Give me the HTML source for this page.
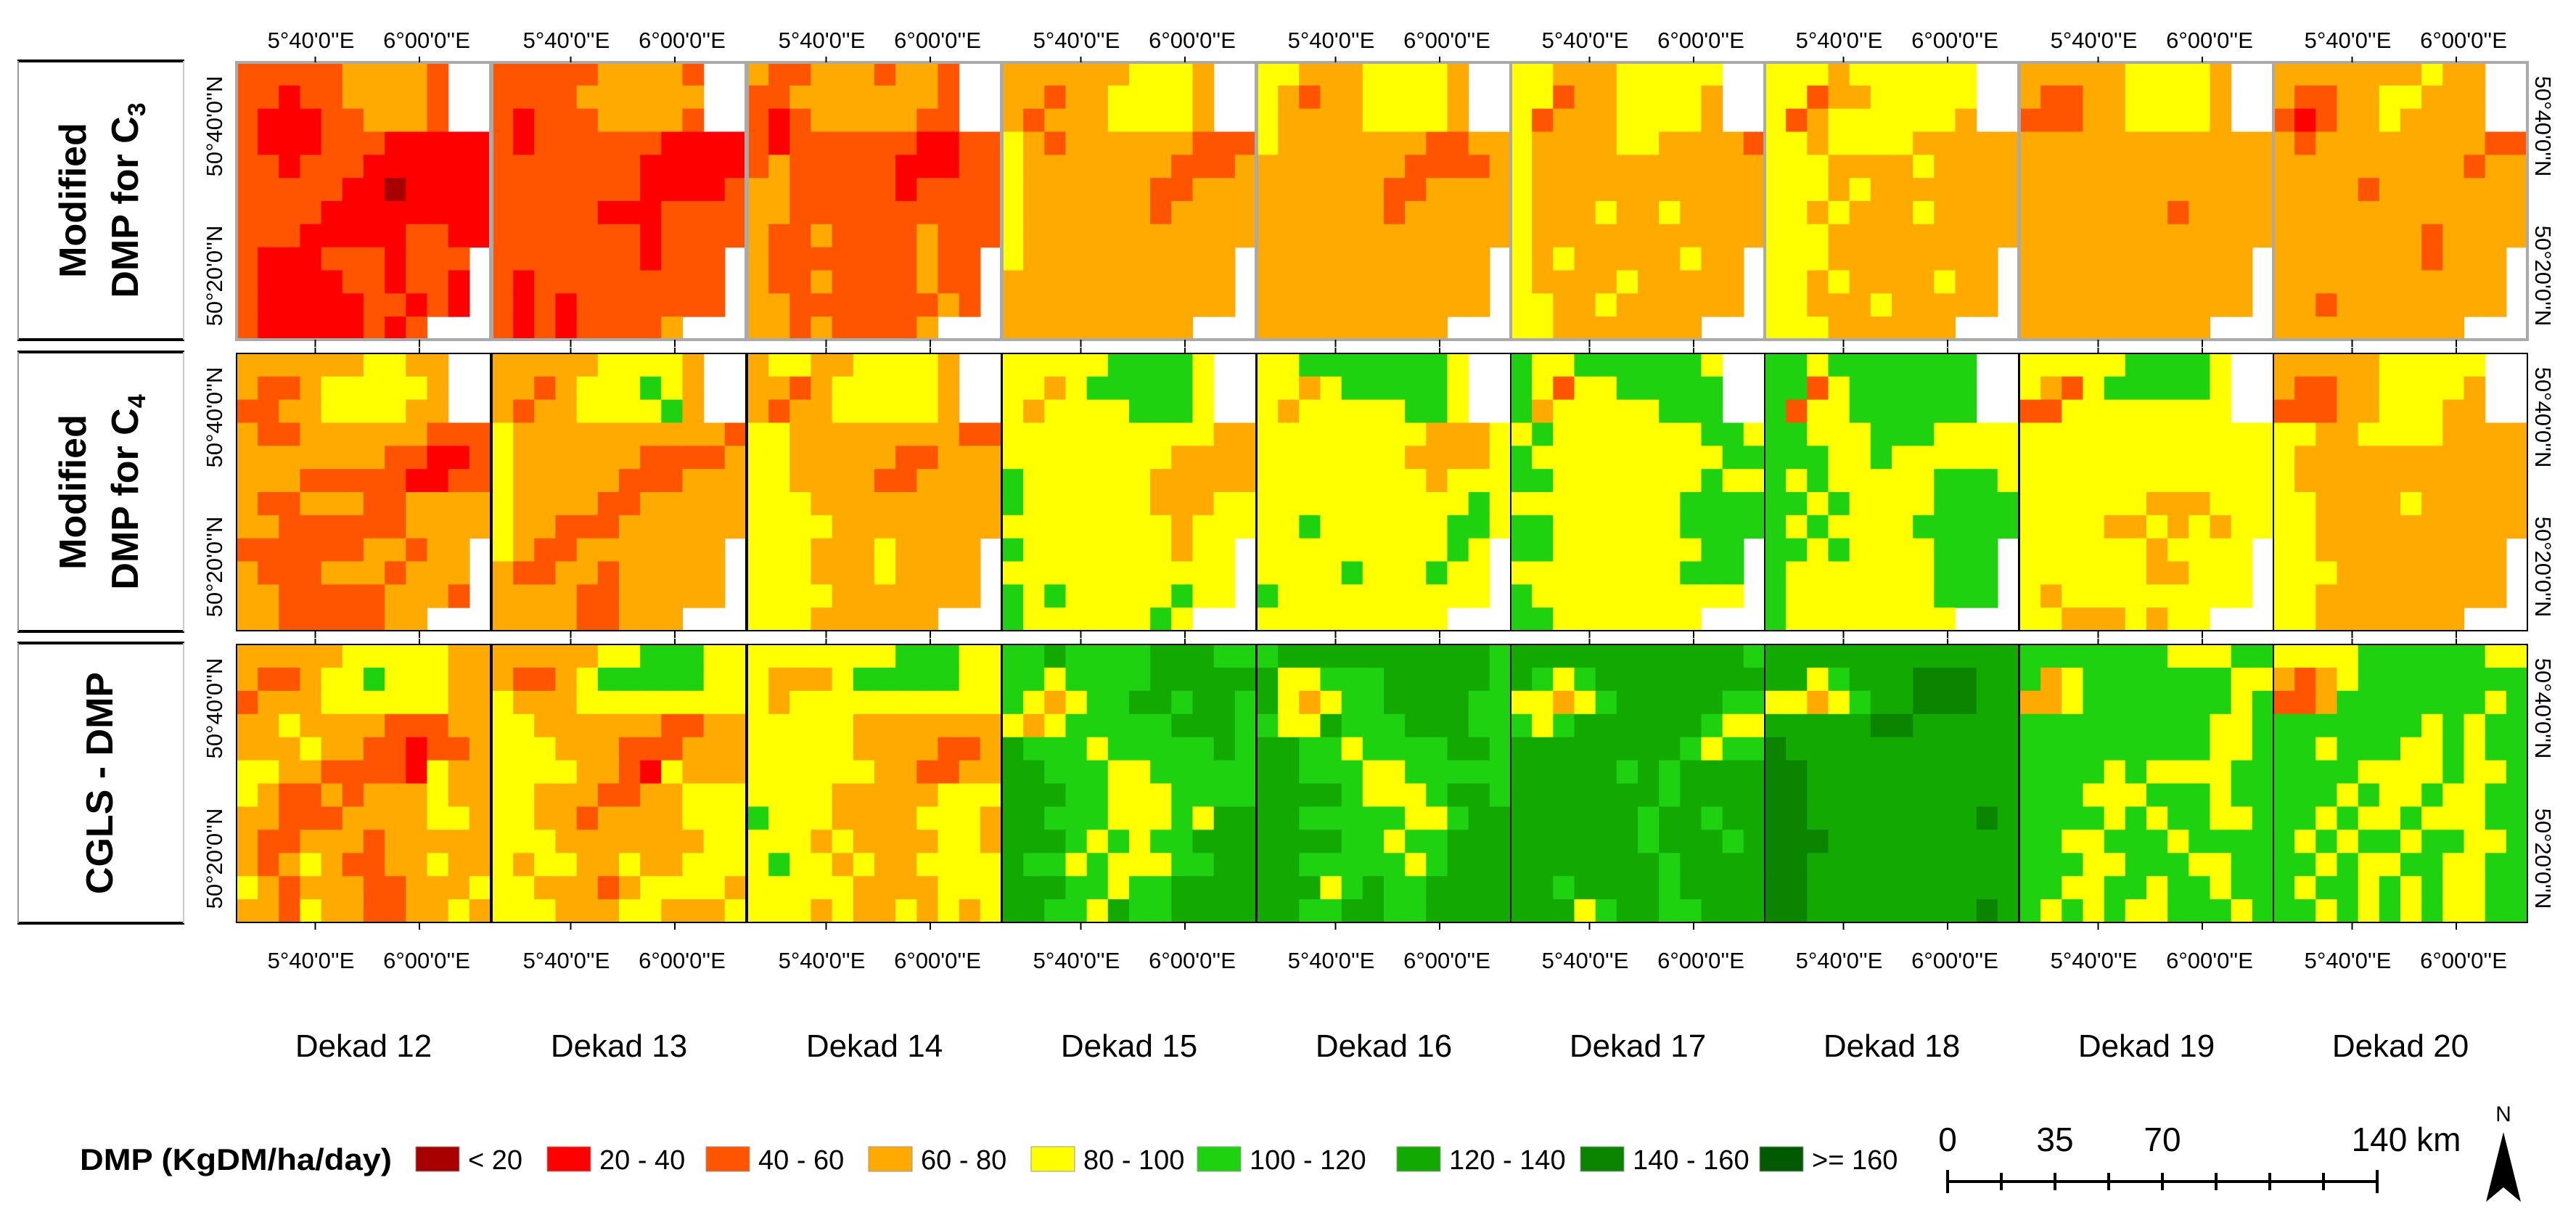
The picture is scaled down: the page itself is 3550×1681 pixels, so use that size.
<!DOCTYPE html>
<html><head><meta charset="utf-8"><style>
html,body{margin:0;padding:0;background:#fff;width:3550px;height:1681px;overflow:hidden}
svg{display:block;font-family:"Liberation Sans",sans-serif}
</style></head><body>
<svg id="fig" width="3550" height="1681" viewBox="0 0 3550 1681" xmlns="http://www.w3.org/2000/svg">
<g id="maps"></g>
<g id="labels"></g>
<g>
 <line x1="24" y1="84" x2="254" y2="84" stroke="#000" stroke-width="4"/><line x1="24" y1="468" x2="254" y2="468" stroke="#000" stroke-width="4"/>
 <line x1="25" y1="84" x2="25" y2="468" stroke="#999" stroke-width="2"/><line x1="253" y1="84" x2="253" y2="468" stroke="#ccc" stroke-width="2"/>
 <text transform="translate(118,276) rotate(-90)" text-anchor="middle" font-size="52" font-weight="bold">Modified</text>
 <text transform="translate(190,276) rotate(-90)" text-anchor="middle" font-size="52" font-weight="bold">DMP for C<tspan font-size="34" dy="10">3</tspan></text>
</g>
<g>
 <line x1="24" y1="485" x2="254" y2="485" stroke="#000" stroke-width="4"/><line x1="24" y1="870" x2="254" y2="870" stroke="#000" stroke-width="4"/>
 <line x1="25" y1="485" x2="25" y2="870" stroke="#999" stroke-width="2"/><line x1="253" y1="485" x2="253" y2="870" stroke="#ccc" stroke-width="2"/>
 <text transform="translate(118,678) rotate(-90)" text-anchor="middle" font-size="52" font-weight="bold">Modified</text>
 <text transform="translate(190,678) rotate(-90)" text-anchor="middle" font-size="52" font-weight="bold">DMP for C<tspan font-size="34" dy="10">4</tspan></text>
</g>
<g>
 <line x1="24" y1="886" x2="254" y2="886" stroke="#000" stroke-width="4"/><line x1="24" y1="1272" x2="254" y2="1272" stroke="#000" stroke-width="4"/>
 <line x1="25" y1="886" x2="25" y2="1272" stroke="#999" stroke-width="2"/><line x1="253" y1="886" x2="253" y2="1272" stroke="#ccc" stroke-width="2"/>
 <text transform="translate(155,1079) rotate(-90)" text-anchor="middle" font-size="52" font-weight="bold">CGLS - DMP</text>
</g>
<g id="legend">
 <text x="110" y="1612" font-size="42" font-weight="bold" textLength="430" lengthAdjust="spacingAndGlyphs">DMP (KgDM/ha/day)</text>
</g>
<g>
 <text x="2684" y="1586" font-size="46" text-anchor="middle">0</text>
 <text x="2832" y="1586" font-size="46" text-anchor="middle">35</text>
 <text x="2980" y="1586" font-size="46" text-anchor="middle">70</text>
 <text x="3316" y="1586" font-size="46" text-anchor="middle">140 km</text>
 <line x1="2684" y1="1628" x2="3276" y2="1628" stroke="#000" stroke-width="4"/>
 <g stroke="#000" stroke-width="4">
 <line x1="2684" y1="1612" x2="2684" y2="1644"/><line x1="2758" y1="1616" x2="2758" y2="1640"/><line x1="2832" y1="1616" x2="2832" y2="1640"/><line x1="2906" y1="1616" x2="2906" y2="1640"/><line x1="2980" y1="1616" x2="2980" y2="1640"/><line x1="3054" y1="1616" x2="3054" y2="1640"/><line x1="3128" y1="1616" x2="3128" y2="1640"/><line x1="3202" y1="1616" x2="3202" y2="1640"/><line x1="3276" y1="1612" x2="3276" y2="1644"/>
 </g>
</g>
<g>
 <text x="3450" y="1545" font-size="30" text-anchor="middle">N</text>
 <polygon points="3450,1560 3474,1656 3450,1636 3426,1656" fill="#000"/>
</g>
</svg>
<script>
const colors = ["#a80000","#ff0000","#ff5500","#ffaa00","#ffff00","#1fd20f","#13aa00","#0b8500","#005a00"];
const legendLabels = ["< 20","20 - 40","40 - 60","60 - 80","80 - 100","100 - 120","120 - 140","140 - 160",">= 160"];
const dekads = ["Dekad 12","Dekad 13","Dekad 14","Dekad 15","Dekad 16","Dekad 17","Dekad 18","Dekad 19","Dekad 20"];
const lonLabels = ["5°40'0''E","6°00'0''E"];
const latLabels = ["50°40'0''N","50°20'0''N"];
const c3 = [
["2222233332..","2212233332..","2111223332..","211122211111","221222111111","222221101111","222211111111","222111112211","21112221222.","21111221221.","21111122121.","211111212..."],
["2222233332..","2222333333..","2122233332..","212222221111","222222211111","222222211112","222221112222","222222212222","22222221222.","21222222222.","21212222222.","212122223..."],
["3223332332..","2233333332..","2123333322..","212222221122","232222211122","332222212222","332222222222","322322223222","32222222322.","32232222322.","33222222232.","332322223..."],
["3333334443..","3323344443..","3233344443..","432333333222","433333332223","433333322333","433333323333","433333333333","43333333333.","33333333333.","33333333333.","333333333..."],
["4433344443..","4323344443..","4333344443..","433333332233","333333322223","333333223333","333333233333","333333333333","33333333333.","33333333333.","33333333333.","333333333..."],
["4433344444..","4423344443..","4233344443..","433334433332","433333333333","433333333333","433343343333","433333333333","43433333433.","43333433333.","44334333333.","443333333..."],
["4443444444..","4423344444..","4234444443..","443444433333","444333343333","444343333333","443433343333","444333333333","44433333333.","44343333433.","44333433333.","444333333..."],
["3333344443..","3223344443..","2223344443..","333333333333","333333333333","333333333333","333333323333","333333333333","33333333333.","33333333333.","33333333333.","333333333..."],
["3333333433..","3223344333..","2123343333..","323333333322","333333333233","333323333333","333333333333","333333323333","33333332333.","33333333333.","33233333333.","333333333..."]
];
const c4 = [
["3333334433..","3223444443..","2233444433..","322333333222","333333322112","333222221122","322333223333","332222223333","22222233233.","32223332333.","33222223332.","332222233..."],
["3333344443..","3323444543..","3233444453..","433333333332","433333322223","433333222333","433332233333","433222333333","43223333333.","32233233333.","33332233333.","333322333..."],
["3443344443..","3323444443..","3233444443..","443333333322","443333322333","443333223333","444333333333","444433333333","44433343333.","44433343333.","44443333333.","444333333..."],
["4444455554..","4434555554..","4344445554..","444444444433","444444443333","544444433333","544444433344","444444443444","54444444344.","44444444444.","54544444544.","544444454..."],
["4455555554..","4434555554..","4344444554..","444444443334","444444433334","444444443444","444444444454","445444444554","44444444454.","44445444544.","54444444444.","444444444..."],
["5445555554..","5424455555..","5344444555..","454444444554","544444444455","554444444544","444444445555","554444445555","55444444455.","44444444555.","54444444444.","554444444..."],
["5545555555..","5524555555..","5244555555..","554445554444","555445444444","545444445554","554544445555","545444455555","55454444555.","54444444555.","54444444555.","544444444..."],
["4444455554..","4324555554..","2244444444..","444444444444","444444444444","444444444444","444444333444","444433434344","44444434444.","44444433444.","43444444444.","443334344..."],
["3333344444..","3223344443..","2223344433..","443344443333","433333333333","433333333333","443333433333","443333333333","44333333333.","44433333333.","44333333333.","443333333..."]
];
const cgls = [
["333334444433","322344544433","233344444433","334333322233","333433221223","443322221433","432232333433","332223333443","322333233333","323432233433","432333223334","332433223343"],
["333334455544","322345555544","433344444444","443333332233","444333222333","444433214333","443332233444","443323333444","444333333344","434433433444","443332344443","444333443334"],
["444444455544","433345555544","434444444444","444443333333","444443333223","444444332233","444433333444","544433334443","444343333443","454434334444","444443333444","444343343434"],
["556555566655","554555566666","543455665665","434555556665","655545555565","665554455555","666554445555","665554445466","666545455666","655454445566","666554556666","665546556666"],
["566666666665","644555666665","643455666655","544655566655","665545555665","665554455555","666654445665","665555544566","666655455666","665555545666","666456556666","665566556666"],
["666666666665","654566666666","443456666655","545666666544","666666665455","666665656666","666666656666","666666566566","666666566656","666666656666","665666656666","666456655666"],
["666666666666","664566677766","443456677766","666667766666","766666666666","776666666666","776666666666","776666666676","777666666666","776666666666","776666666666","776666666676"],
["555555544455","534555555544","334555555545","555555555445","555555555445","555545444455","555444555455","555545455445","554455545555","555445554455","554455455455","545454455545"],
["444455555544","323455555555","223555555545","555555545455","554555445455","555544445445","555454454455","554544544455","545455455445","554544554455","545545454455","554545454455"]
];
const NS = "http://www.w3.org/2000/svg";
const colX = [326,678,1030,1381,1732,2082,2432,2783,3133];
const panelW = 350;
const rowY = [86,487,888];
const rowH = [382,382,383];
const rowData = [c3,c4,cgls];
const rowNames = ["c3","c4","cgls"];
const lonFrac = [0.31,0.72];
const latFrac = [0.23,0.77];
function el(t,a){const e=document.createElementNS(NS,t);for(const k in a)e.setAttribute(k,a[k]);return e;}
function xScale(c,j,n){return colX[c]+j*panelW/n;}
function yScale(r,i,n){return rowY[r]+i*rowH[r]/n;}
const maps=document.getElementById('maps');
const labels=document.getElementById('labels');
for(let r=0;r<3;r++){
 for(let c=0;c<9;c++){
  const g=el('g',{});
  
  
  const grid=rowData[r][c];
  const n=grid.length;
  for(let i=0;i<n;i++){
   const m=grid[i].length;
   for(let j=0;j<m;j++){
    const ch=grid[i][j];
    if(ch==='.')continue;
    const x0=xScale(c,j,m),x1=xScale(c,j+1,m),y0=yScale(r,i,n),y1=yScale(r,i+1,n);
    const rc=el('rect',{x:x0.toFixed(1),y:y0.toFixed(1),width:(x1-x0+0.6).toFixed(1),height:(y1-y0+0.6).toFixed(1),fill:colors[+ch]});
    
    
    g.appendChild(rc);
   }
  }
  const fr=el('rect',{x:colX[c],y:rowY[r],width:panelW,height:rowH[r],fill:'none',stroke:r===0?'#aaa':'#000','stroke-width':r===0?4:2});
  
  
  g.appendChild(fr);
  for(let k=0;k<2;k++){
   const tx=colX[c]+lonFrac[k]*panelW;
   const t1=el('line',{x1:tx,y1:rowY[r]-8,x2:tx,y2:rowY[r],stroke:'#000','stroke-width':2});
   
   
   g.appendChild(t1);
   const t2=el('line',{x1:tx,y1:rowY[r]+rowH[r],x2:tx,y2:rowY[r]+rowH[r]+10,stroke:'#000','stroke-width':2});
   
   
   g.appendChild(t2);
  }
  maps.appendChild(g);
 }
}
for(let c=0;c<9;c++){
 for(let k=0;k<2;k++){
  const cx=colX[c]+lonFrac[k]*panelW-(k===0?6:-10);
  const t=el('text',{x:cx,y:66,'font-size':31,'text-anchor':'middle'});
  t.textContent=lonLabels[k];
  
  
  labels.appendChild(t);
  const b=el('text',{x:cx,y:1334,'font-size':31,'text-anchor':'middle'});
  b.textContent=lonLabels[k];
  
  
  labels.appendChild(b);
 }
 const d=el('text',{x:colX[c]+panelW/2,y:1456,'font-size':44,'text-anchor':'middle'});
 d.textContent=dekads[c];
 
 
 labels.appendChild(d);
}
for(let r=0;r<3;r++){
 for(let k=0;k<2;k++){
  const y=rowY[r]+latFrac[k]*rowH[r];
  const l=el('text',{transform:'translate(306,'+y.toFixed(0)+') rotate(-90)','font-size':31,'text-anchor':'middle'});
  l.textContent=latLabels[k];
  
  
  labels.appendChild(l);
  const rr=el('text',{transform:'translate(3494,'+y.toFixed(0)+') rotate(90)','font-size':31,'text-anchor':'middle'});
  rr.textContent=latLabels[k];
  
  
  labels.appendChild(rr);
 }
}
const legend=document.getElementById('legend');
const legX=[573,754,973,1197,1421,1650,1925,2178,2425];
for(let i=0;i<9;i++){
 const s=el('rect',{x:legX[i],y:1580,width:60,height:34,fill:colors[i],stroke:'#999','stroke-width':1});
 
 
 legend.appendChild(s);
 const t=el('text',{x:legX[i]+72,y:1611,'font-size':38});
 t.textContent=legendLabels[i];
 
 
 legend.appendChild(t);
}
</script>
</body></html>
